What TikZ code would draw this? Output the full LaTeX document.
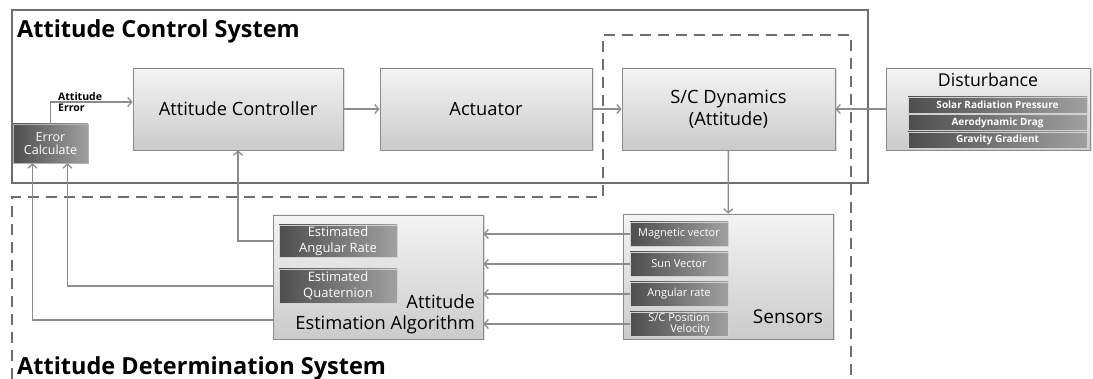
\documentclass[tikz,border=0pt]{standalone}
\usepackage{fontspec}
\setmainfont{Open Sans}
\usetikzlibrary{arrows.meta,shadows}
\definecolor{framegray}{HTML}{6E6E6E}
\definecolor{linkgray}{HTML}{8C8C8C}
\definecolor{boxtop}{HTML}{F4F4F4}
\definecolor{boxbot}{HTML}{CBCBCB}
\definecolor{boxline}{HTML}{8A8A8A}
\definecolor{darkl}{HTML}{4E4E4E}
\definecolor{darkr}{HTML}{A0A0A0}

\begin{document}
\begin{tikzpicture}[x=1pt,y=-1pt,>={Straight Barb[length=4pt,width=9pt]},
  every node/.style={inner sep=0pt},
  bigbox/.style={draw=boxline, line width=0.8pt, top color=boxtop, bottom color=boxbot,
    drop shadow={shadow xshift=1.5pt, shadow yshift=-1.5pt, opacity=0.25},
    font=\fontsize{18.3}{22}\selectfont, align=center},
  darkbox/.style={draw=gray!35, line width=0.6pt, left color=darkl, right color=darkr,
    text=white, font=\fontsize{13}{16}\selectfont, align=center},
  sensbox/.style={darkbox, minimum width=98, minimum height=24, font=\fontsize{11}{11}\selectfont},
  distbar/.style={darkbox, minimum width=179, minimum height=16, font=\bfseries\fontsize{10}{12}\selectfont},
  link/.style={draw=linkgray, line width=1.3pt},
  frame/.style={draw=framegray, line width=2pt},
  errlbl/.style={font=\bfseries\fontsize{10.5}{11}\selectfont, xshift=7pt},
  title/.style={font=\bfseries\fontsize{23.5}{26}\selectfont, anchor=west}]
	\useasboundingbox (0,0) rectangle (1093,379);
	%Frames
	\draw [frame] (12,10) rectangle (868,183);
	\draw [frame, dash pattern=on 11pt off 7pt] (12,379) -- (12,197) -- (603,197) -- (603,35) -- (851,35) -- (851,379);
	\node [title] (acs) at (17,31) {Attitude Control System};
	\node [title] (ads) at (17,368) {Attitude Determination System};
	%Control loop
	\node [bigbox, minimum width=210, minimum height=82] (ctrl) at (238,109) {Attitude Controller};
	\node [bigbox, minimum width=212, minimum height=82] (act) at (486,109) {Actuator};
	\node [bigbox, minimum width=213, minimum height=82] (dyn) at (728.5,109) {S/C Dynamics\\(Attitude)};
	\node [darkbox, minimum width=75, minimum height=39, draw=gray!60, font=\fontsize{12.5}{13.5}\selectfont] (err) at (50.5,143.5) {Error\\Calculate};
	%Disturbance
	\node [bigbox, minimum width=204, minimum height=82] (dist) at (988,109) {};
	\node [font=\fontsize{17.7}{18}\selectfont] (disttxt) at (988,80) {Disturbance};
	\node [distbar] (srp) at (997.5,105) {Solar Radiation Pressure};
	\node [distbar] (drag) at (997.5,122.5) {Aerodynamic Drag};
	\node [distbar] (grav) at (997.5,140) {Gravity Gradient};
	%Estimation
	\node [bigbox, minimum width=210, minimum height=124] (aea) at (378,277) {};
	\node [darkbox, minimum width=118, minimum height=32] (estrate) at (338,241) {Estimated\\Angular Rate};
	\node [darkbox, minimum width=118, minimum height=34] (estq) at (338,286) {Estimated\\Quaternion};
	\node [font=\fontsize{18.3}{21}\selectfont, align=right, anchor=south east] (aeatxt) at (475,334) {Attitude\\Estimation Algorithm};
	%Sensors
	\node [bigbox, minimum width=210, minimum height=125] (sens) at (728,276.5) {};
	\node [font=\fontsize{19}{20}\selectfont] (senstxt) at (788,317) {Sensors};
	\node [sensbox] (mag) at (679,234) {Magnetic vector};
	\node [sensbox] (sun) at (679,264) {Sun Vector};
	\node [sensbox] (rate) at (679,294) {Angular rate};
	\node [sensbox, align=right] (pos) at (679,324) {S/C Position\\Velocity};
	%Connections
	\draw [link, ->] (err.north) |- node [errlbl, anchor=south west, yshift=1pt] (aelbl1) {Attitude}
		node [errlbl, anchor=north west, yshift=-1pt] (aelbl2) {Error} ([yshift=7pt]ctrl.west);
	\draw [link, ->] (ctrl) -- (act);
	\draw [link, ->] (act) -- (dyn);
	\draw [link, ->] (dist) -- (dyn);
	\draw [link, ->] (dyn) -- (sens);
	\draw [link, ->] (mag.west) -- (mag.west -| aea.east);
	\draw [link, ->] (sun.west) -- (sun.west -| aea.east);
	\draw [link, ->] (rate.west) -- (rate.west -| aea.east);
	\draw [link, ->] (pos.west) -- (pos.west -| aea.east);
	\draw [link, ->] (estrate.west -| aea.west) -| (ctrl.south);
	\draw [link, ->] (estq.west -| aea.west) -| ([xshift=17pt]err.south);
	\draw [link, ->] ([yshift=-43pt]aea.west) -| ([xshift=-18pt]err.south);
\end{tikzpicture}
\end{document}
